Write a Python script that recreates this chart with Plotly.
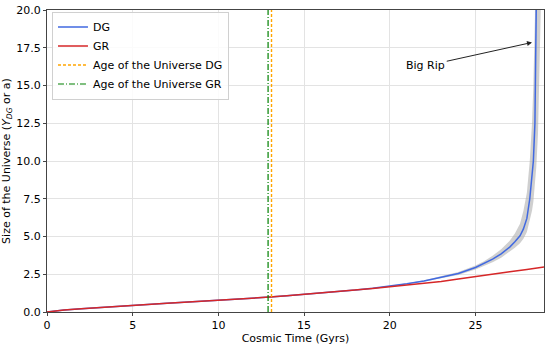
import plotly.graph_objects as go

# ---- data ----
t_gr = [0, 0.5, 1, 2, 3, 4, 5, 6, 7, 8, 9, 10, 11, 12, 13, 14, 15, 16, 17, 18,
        19, 20, 21, 22, 23, 24, 25, 26, 27, 28, 29]
a_gr = [0.0, 0.08, 0.13, 0.22, 0.30, 0.38, 0.46, 0.52, 0.58, 0.64, 0.70, 0.77,
        0.84, 0.91, 0.99, 1.07, 1.16, 1.25, 1.35, 1.45, 1.56, 1.67, 1.78, 1.90,
        2.02, 2.19, 2.36, 2.51, 2.66, 2.82, 2.98]

t_dg = [0, 0.5, 1, 2, 3, 4, 5, 6, 7, 8, 9, 10, 11, 12, 13, 14, 15, 16, 17, 18,
        19, 20, 21, 22, 23, 24, 25, 25.5, 26, 26.5, 27, 27.3, 27.6, 27.8, 28.0,
        28.17, 28.3, 28.38, 28.47, 28.55, 28.65, 28.75, 28.85, 28.95]
a_dg = [0.0, 0.08, 0.13, 0.22, 0.30, 0.38, 0.46, 0.52, 0.58, 0.64, 0.70, 0.77,
        0.84, 0.91, 0.99, 1.07, 1.16, 1.25, 1.35, 1.45, 1.57, 1.71, 1.87, 2.06,
        2.29, 2.55, 2.95, 3.2, 3.5, 3.85, 4.3, 4.65, 5.05, 5.5, 6.2, 7.5, 8.8,
        10.0, 12.5, 15.4, 20.0, 28.0, 40.0, 60.0]
a_dg_hi = [0.0, 0.08, 0.13, 0.22, 0.30, 0.38, 0.46, 0.52, 0.58, 0.64, 0.70,
           0.77, 0.84, 0.91, 0.99, 1.07, 1.16, 1.25, 1.35, 1.46, 1.58, 1.73,
           1.90, 2.10, 2.35, 2.65, 3.08, 3.36, 3.72, 4.15, 4.72, 5.2, 5.85,
           6.7, 7.9, 10.0, 12.5, 15.0, 19.5, 26.0, 38.0, 55.0, 80.0, 110.0]
a_dg_lo = [0.0, 0.08, 0.13, 0.22, 0.30, 0.38, 0.46, 0.52, 0.58, 0.64, 0.70,
           0.77, 0.84, 0.91, 0.99, 1.07, 1.16, 1.25, 1.35, 1.44, 1.56, 1.69,
           1.84, 2.02, 2.23, 2.45, 2.82, 3.04, 3.30, 3.60, 3.98, 4.25, 4.55,
           4.85, 5.3, 6.0, 6.7, 7.3, 8.4, 9.6, 11.8, 15.0, 19.5, 27.0]

age_dg = 13.1
age_gr = 12.9
y_line = [0, 20]

x_ticks = [0, 5, 10, 15, 20, 25]
y_ticks = [0, 2.5, 5, 7.5, 10, 12.5, 15, 17.5, 20]

font = "DejaVu Sans"

fig = go.Figure()

# uncertainty band
fig.add_trace(go.Scatter(x=t_dg, y=a_dg_lo, mode="lines",
                         line=dict(width=0, color="rgba(0,0,0,0)"),
                         showlegend=False, hoverinfo="skip"))
fig.add_trace(go.Scatter(x=t_dg, y=a_dg_hi, mode="lines", fill="tonexty",
                         fillcolor="rgba(175,175,175,0.6)",
                         line=dict(width=0, color="rgba(0,0,0,0)"),
                         showlegend=False, hoverinfo="skip"))

fig.add_trace(go.Scatter(x=t_dg, y=a_dg, mode="lines", name="DG",
                         line=dict(color="#4169e1", width=1.5)))
fig.add_trace(go.Scatter(x=t_gr, y=a_gr, mode="lines", name="GR",
                         line=dict(color="#d62728", width=1.5)))
fig.add_trace(go.Scatter(x=[age_dg, age_dg], y=y_line, mode="lines",
                         name="Age of the Universe DG",
                         line=dict(color="#ffa500", width=1.4, dash="3px,2px")))
fig.add_trace(go.Scatter(x=[age_gr, age_gr], y=y_line, mode="lines",
                         name="Age of the Universe GR",
                         line=dict(color="green", width=1.2,
                                   dash="6px,2px,1px,2px")))

fig.add_annotation(x=28.3, y=17.85, ax=22.1, ay=16.3, axref="x", ayref="y",
                   xref="x", yref="y", text="Big Rip", showarrow=True,
                   arrowhead=2, arrowsize=1, arrowwidth=1, arrowcolor="#222",
                   font=dict(family=font, size=11, color="black"))

axis_common = dict(showline=True, linecolor="#444", linewidth=1, mirror=True,
                   showgrid=True, gridcolor="#e3e3e3", gridwidth=1,
                   ticks="outside", ticklen=3, tickcolor="#444", zeroline=False,
                   automargin=False,
                   tickfont=dict(family=font, size=11, color="black"))

fig.update_xaxes(range=[0, 29], tickvals=x_ticks,
                 title=dict(text="Cosmic Time (Gyrs)", standoff=2,
                            font=dict(family=font, size=11, color="black")),
                 **axis_common)
fig.update_yaxes(range=[0, 20], tickvals=y_ticks, tickformat=".1f",
                 title=dict(text="Size of the Universe (<i>Y</i><sub><i>DG</i></sub> or a)",
                            standoff=4,
                            font=dict(family=font, size=11, color="black")),
                 **axis_common)

fig.update_layout(
    width=550, height=345,
    margin=dict(l=47, r=6, t=10, b=33),
    plot_bgcolor="white", paper_bgcolor="white",
    font=dict(family=font, size=11, color="black"),
    legend=dict(x=0.01, y=0.995, xanchor="left", yanchor="top",
                traceorder="normal",
                bgcolor="rgba(255,255,255,0.85)", bordercolor="#d0d0d0",
                borderwidth=1, font=dict(family=font, size=11),
                tracegroupgap=0, itemwidth=30),
)

fig.write_html("out.html", config={"displayModeBar": False},
               post_script="document.body.style.margin='0';"
                           "document.body.style.overflow='hidden';")
